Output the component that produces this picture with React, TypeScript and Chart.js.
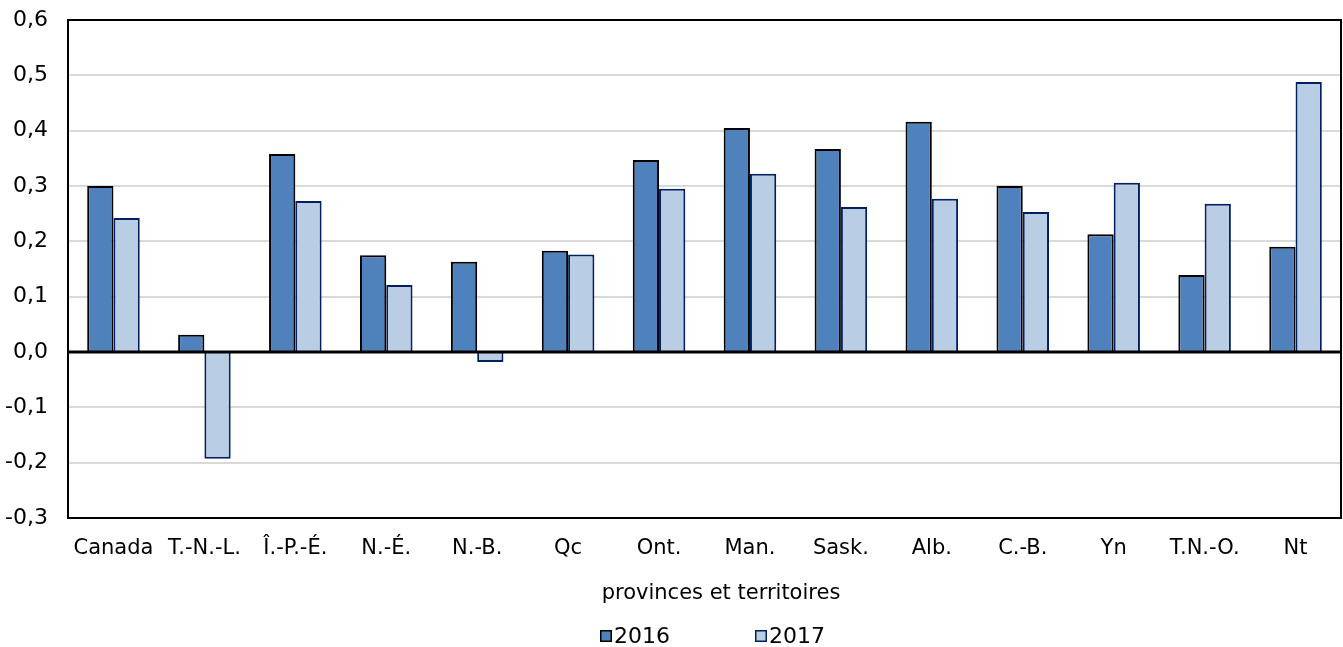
import { useEffect, useRef } from 'react';
import { Chart, registerables } from 'chart.js';

Chart.register(...registerables);

const categories = ['Canada', 'T.-N.-L.', 'Î.-P.-É.', 'N.-É.', 'N.-B.', 'Qc', 'Ont.', 'Man.', 'Sask.', 'Alb.', 'C.-B.', 'Yn', 'T.N.-O.', 'Nt'];
const values2016 = [0.300, 0.031, 0.358, 0.175, 0.163, 0.183, 0.347, 0.405, 0.367, 0.416, 0.300, 0.213, 0.139, 0.190];
const values2017 = [0.242, -0.193, 0.273, 0.121, -0.018, 0.176, 0.295, 0.322, 0.262, 0.277, 0.253, 0.306, 0.268, 0.488];
const seriesLabels = ['2016', '2017'];
const yMin = -0.3;
const yMax = 0.6;
const yStep = 0.1;
const xAxisTitle = 'provinces et territoires';

const FONT = '"DejaVu Sans", Verdana, sans-serif';
const fill2016 = '#4F81BD';
const border2016 = '#000000';
const fill2017 = '#B9CDE5';
const border2017 = '#002060';

const framePlugin = {
  id: 'frameAndLegend',
  afterDatasetsDraw(chart: any) {
    const { ctx, chartArea: a, scales } = chart;
    const y0 = scales.y.getPixelForValue(0);
    ctx.save();
    ctx.strokeStyle = '#000';
    ctx.lineWidth = 3;
    ctx.beginPath();
    ctx.moveTo(a.left, y0);
    ctx.lineTo(a.right, y0);
    ctx.stroke();
    ctx.lineWidth = 2;
    ctx.strokeRect(a.left, a.top, a.right - a.left, a.bottom - a.top);
    ctx.restore();
  },
  afterDraw(chart: any) {
    const { ctx } = chart;
    ctx.save();
    // axis title
    ctx.font = `21px ${FONT}`;
    ctx.fillStyle = '#000';
    ctx.textAlign = 'center';
    ctx.textBaseline = 'middle';
    ctx.fillText(xAxisTitle, 721, 594);
    // legend
    const items = [
      { text: seriesLabels[0], fill: fill2016, stroke: border2016, x: 600 },
      { text: seriesLabels[1], fill: fill2017, stroke: border2017, x: 755 },
    ];
    const cy = 636;
    ctx.font = `22px ${FONT}`;
    ctx.textBaseline = 'middle';
    ctx.textAlign = 'left';
    items.forEach((it) => {
      ctx.fillStyle = it.fill;
      ctx.fillRect(it.x, cy - 6, 12, 12);
      ctx.strokeStyle = it.stroke;
      ctx.lineWidth = 1.5;
      ctx.strokeRect(it.x + 0.75, cy - 6 + 0.75, 10.5, 10.5);
      ctx.fillStyle = '#000';
      ctx.fillText(it.text, it.x + 14, cy + 1);
    });
    ctx.restore();
  },
};

export default function App() {
  const canvasRef = useRef<HTMLCanvasElement | null>(null);

  useEffect(() => {
    if (!canvasRef.current) return;
    Chart.defaults.font.family = FONT;
    const chart = new Chart(canvasRef.current, {
      type: 'bar',
      data: {
        labels: categories,
        datasets: [
          {
            label: seriesLabels[0],
            data: values2016,
            backgroundColor: fill2016,
            borderColor: border2016,
            borderWidth: 2,
            categoryPercentage: 0.578,
            barPercentage: 1.0,
          },
          {
            label: seriesLabels[1],
            data: values2017,
            backgroundColor: fill2017,
            borderColor: border2017,
            borderWidth: 2,
            categoryPercentage: 0.578,
            barPercentage: 1.0,
          },
        ],
      },
      options: {
        responsive: false,
        animation: false,
        devicePixelRatio: 1,
        layout: { padding: { top: 20, right: 2, bottom: 42, left: 0 } },
        plugins: {
          legend: { display: false },
          tooltip: { enabled: false },
        },
        scales: {
          x: {
            grid: { display: false, drawTicks: false },
            border: { display: false },
            ticks: {
              color: '#000',
              font: { size: 21, family: FONT },
              padding: 18,
              maxRotation: 0,
              minRotation: 0,
              autoSkip: false,
            },
            title: { display: false, text: xAxisTitle },
            afterFit: (scale: any) => {
              scale.height = 87;
            },
          },
          y: {
            min: yMin,
            max: yMax,
            grid: {
              color: '#D9D9D9',
              lineWidth: 2,
              drawTicks: true,
              tickLength: 20,
              tickColor: 'rgba(0,0,0,0)',
            },
            border: { display: false },
            ticks: {
              stepSize: yStep,
              color: '#000',
              font: { size: 22, family: FONT },
              padding: 0,
              callback: (v: any) => {
                const n = Math.abs(Number(v)) < 1e-9 ? 0 : Number(v);
                return n.toFixed(1).replace('.', ',');
              },
            },
            afterFit: (scale: any) => {
              scale.width = 68;
            },
          },
        },
      },
      plugins: [framePlugin],
    });
    return () => chart.destroy();
  }, []);

  return (
    <div style={{ position: 'fixed', left: 0, top: 0, width: 1343, height: 647, background: '#fff' }}>
      <canvas ref={canvasRef} width={1343} height={647} style={{ display: 'block' }} />
    </div>
  );
}
